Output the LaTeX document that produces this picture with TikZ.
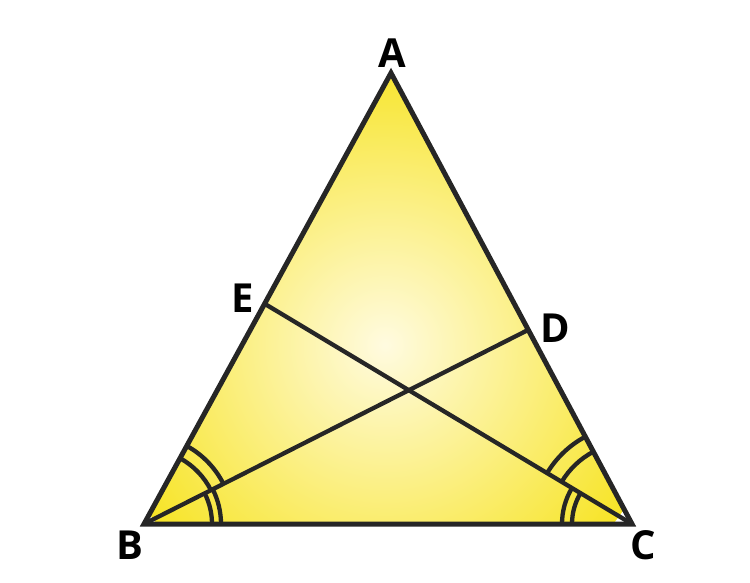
\documentclass[tikz,border=0pt]{standalone}
\usepackage{fontspec}
\setmainfont{Open Sans}
\begin{document}
\begin{tikzpicture}[x=1pt,y=1pt,
  edge/.style={line width=5pt,draw=linecol,line join=miter},
  seg/.style={line width=4.3pt,draw=linecol},
  angarc/.style={line width=4.3pt,draw=linecol},
  lab/.style={font=\bfseries\fontsize{40}{40}\selectfont,text=black,inner sep=0pt}]
\definecolor{linecol}{HTML}{262626}
\definecolor{yedge}{HTML}{F7E426}
\definecolor{ycenter}{HTML}{FFFBE0}
\useasboundingbox (0,0) rectangle (750,582);
\coordinate (A) at (391,509);
\coordinate (B) at (144,58);
\coordinate (C) at (632,58);
\coordinate (E) at (265,278);
\coordinate (D) at (528,252);
\begin{scope}
\clip (A) -- (B) -- (C) -- cycle;
\shade[inner color=ycenter,outer color=yedge] (385,237) circle (290);
\end{scope}
% arcs at B
\draw[angarc] ([shift={(26.8:75pt)}]B) arc[start angle=26.8,end angle=61.3,radius=75pt];
\draw[angarc] ([shift={(26.8:89pt)}]B) arc[start angle=26.8,end angle=61.3,radius=89pt];
\draw[angarc] ([shift={(0:68pt)}]B) arc[start angle=0,end angle=26.8,radius=68pt];
\draw[angarc] ([shift={(0:77pt)}]B) arc[start angle=0,end angle=26.8,radius=77pt];
% arcs at C
\draw[angarc] ([shift={(118.1:82pt)}]C) arc[start angle=118.1,end angle=149.1,radius=82pt];
\draw[angarc] ([shift={(118.1:99pt)}]C) arc[start angle=118.1,end angle=149.1,radius=99pt];
\draw[angarc] ([shift={(149.1:60pt)}]C) arc[start angle=149.1,end angle=180,radius=60pt];
\draw[angarc] ([shift={(149.1:70pt)}]C) arc[start angle=149.1,end angle=180,radius=70pt];
% cevians
\draw[seg] (B) -- (D);
\draw[seg] (C) -- (E);
% triangle
\draw[edge] (A) -- (B) -- (C) -- cycle;
% labels
\node[lab] (lA) at (392,529) {A};
\node[lab] (lB) at (130,37) {B};
\node[lab] (lC) at (643,37) {C};
\node[lab] (lE) at (243,284) {E};
\node[lab] (lD) at (555,254) {D};
\end{tikzpicture}
\end{document}
